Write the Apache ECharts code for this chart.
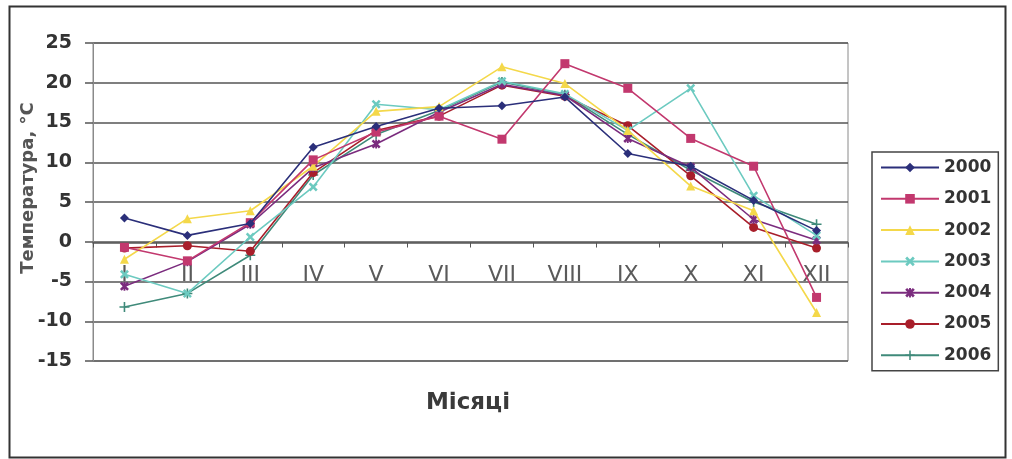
<!DOCTYPE html>
<html>
<head>
<meta charset="utf-8">
<script src="https://cdn.jsdelivr.net/npm/echarts@6/dist/echarts.min.js"></script>
<style>
html,body{margin:0;padding:0;background:#fff;}
#c{width:1012px;height:459px;}
</style>
</head>
<body>
<div id="c"></div>
<script>
const months = ['I','II','III','IV','V','VI','VII','VIII','IX','X','XI','XII'];
const yTicks = { min: -15, max: 25, interval: 5 };
const y2000 = [3.0, 0.8, 2.3, 11.9, 14.5, 16.8, 17.1, 18.2, 11.1, 9.5, 5.2, 1.4];
const y2001 = [-0.7, -2.4, 2.4, 10.3, 13.8, 15.8, 12.9, 22.4, 19.3, 13.0, 9.5, -7.0];
const y2002 = [-2.2, 2.9, 3.9, 9.5, 16.4, 17.0, 22.0, 19.9, 14.0, 7.0, 3.9, -8.9];
const y2003 = [-4.1, -6.5, 0.6, 6.9, 17.3, 16.6, 20.2, 18.6, 14.0, 19.3, 5.8, 0.8];
const y2004 = [-5.6, -2.5, 2.2, 9.3, 12.3, 16.3, 19.8, 18.4, 13.0, 9.4, 2.8, 0.2];
const y2005 = [-0.8, -0.5, -1.2, 8.7, 14.0, 15.8, 19.7, 18.3, 14.6, 8.3, 1.8, -0.8];
const y2006 = [-8.2, -6.5, -1.7, 8.4, 13.5, 16.5, 20.1, 18.5, 13.5, 9.0, 5.0, 2.2];
const years = ['2000','2001','2002','2003','2004','2005','2006'];
const values = [y2000, y2001, y2002, y2003, y2004, y2005, y2006];

const colors = ['#2b2f7a','#c2386e','#f4d84a','#6ccac0','#7b2c7e','#a81e2a','#3f8a7a'];
const X_PATH = 'path://M0,2 L2,0 L5,3 L8,0 L10,2 L7,5 L10,8 L8,10 L5,7 L2,10 L0,8 L3,5 Z';
const STAR_PATH = 'path://M0,2 L2,0 L5,3 L8,0 L10,2 L7,5 L10,8 L8,10 L5,7 L2,10 L0,8 L3,5 Z M4,0 L6,0 L6,10 L4,10 Z';
const PLUS_PATH = 'path://M4.2,0 L5.8,0 L5.8,4.2 L10,4.2 L10,5.8 L5.8,5.8 L5.8,10 L4.2,10 L4.2,5.8 L0,5.8 L0,4.2 L4.2,4.2 Z';
const symbols = ['diamond','rect','triangle',X_PATH,STAR_PATH,'circle',PLUS_PATH];
const sizes = [9,9,9,9,9,9,10];

const chart = echarts.init(document.getElementById('c'), null, {renderer:'canvas'});
const font = '"DejaVu Sans", "Liberation Sans", Arial, sans-serif';

chart.setOption({
  animation: false,
  color: colors,
  grid: { left: 93, right: 164, top: 43, bottom: 98, show: true, borderColor: '#8a8a8a', borderWidth: 1 },
  legend: {
    orient: 'vertical',
    left: 872, top: 152,
    padding: [7, 7, 7, 8],
    itemGap: 14.3,
    itemWidth: 58,
    itemHeight: 12,
    borderColor: '#444',
    borderWidth: 1.5,
    textStyle: { fontFamily: font, fontWeight: 'bold', fontSize: 17, color: '#333' },
    data: years
  },
  xAxis: {
    type: 'category',
    data: months,
    boundaryGap: true,
    position: 'bottom',
    offset: -118.5,
    axisLine: { onZero: false, lineStyle: { color: '#555', width: 1.5 } },
    axisTick: { show: true, length: 5, lineStyle: { color: '#555' } },
    axisLabel: { margin: 22, fontFamily: font, fontSize: 22, color: '#5a5a5a' }
  },
  yAxis: {
    type: 'value',
    min: yTicks.min, max: yTicks.max, interval: yTicks.interval,
    axisLine: { show: true, lineStyle: { color: '#8a8a8a', width: 1 } },
    axisTick: { show: true, length: 8, lineStyle: { color: '#555', width: 1.5 } },
    splitLine: { lineStyle: { color: '#555', width: 1.5 } },
    axisLabel: { margin: 21, fontFamily: font, fontWeight: 'bold', fontSize: 19, color: '#333' }
  },
  graphic: [
    { type: 'rect', left: 7, top: 4, shape: { width: 996, height: 451 }, style: { fill: 'none', stroke: '#333', lineWidth: 2 }, z: 100 },
    { type: 'text', x: 28, y: 188, rotation: Math.PI / 2, style: { text: 'Температура, °C', fontFamily: font, fontSize: 18, fontWeight: 'bold', fill: '#555', textAlign: 'center', textVerticalAlign: 'middle' } },
    { type: 'text', x: 468, y: 403, style: { text: 'Місяці', fontFamily: font, fontSize: 23, fontWeight: 'bold', fill: '#3a3a3a', textAlign: 'center', textVerticalAlign: 'middle' } }
  ],
  series: years.map((y, i) => ({
    name: y,
    type: 'line',
    data: values[i],
    symbol: symbols[i],
    symbolSize: sizes[i],
    lineStyle: { width: 1.6, color: colors[i] },
    itemStyle: { color: colors[i] },
    z: 10 - i
  }))
});
</script>
</body>
</html>
